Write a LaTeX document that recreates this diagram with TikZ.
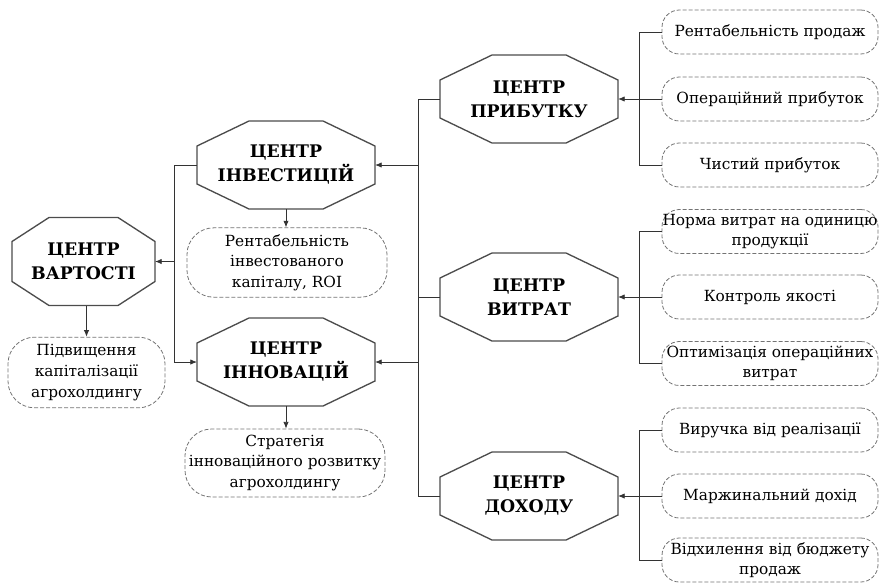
\documentclass[tikz,border=0pt]{standalone}
\usepackage{fontspec}
\setmainfont{DejaVu Serif}
\usepackage{tikz}
\usetikzlibrary{arrows.meta}

\newcommand{\octbox}[3]{%
  \draw[octline] ([xshift=#2]#1.north west) -- ([xshift=-#2]#1.north east)
    -- ([yshift=-#3]#1.north east) -- ([yshift=#3]#1.south east)
    -- ([xshift=-#2]#1.south east) -- ([xshift=#2]#1.south west)
    -- ([yshift=#3]#1.south west) -- ([yshift=-#3]#1.north west) -- cycle;}

\tikzset{
  centre/.style={minimum width=133.5pt, minimum height=66pt, inner sep=0pt, outer sep=0pt,
    align=center, font=\fontsize{13pt}{18pt}\selectfont\bfseries},
  goal/.style={draw=black!55, dash pattern=on 3pt off 1.5pt, line width=0.6pt, rounded corners=13pt,
    minimum width=162pt, minimum height=33pt, inner sep=0pt, align=center,
    font=\fontsize{11.5pt}{15.5pt}\selectfont},
  octline/.style={draw=black!70, line width=1pt},
  link/.style={draw=black!80, line width=0.6pt},
  >={Latex[length=5pt,width=4pt]}
}

\begin{document}
\begin{tikzpicture}[x=0.75pt,y=-0.75pt]
\useasboundingbox (0,0) rectangle (880,582);

\node[centre, minimum width=107.25pt] (vart) at (83.5,261.5) {ЦЕНТР\\ВАРТОСТІ};
\node[centre] (invest) at (286,165) {ЦЕНТР\\ІНВЕСТИЦІЙ};
\node[centre] (innov) at (286,362) {ЦЕНТР\\ІННОВАЦІЙ};
\node[centre] (prybutok) at (529,99) {ЦЕНТР\\ПРИБУТКУ};
\node[centre] (vytraty) at (529,297) {ЦЕНТР\\ВИТРАТ};
\node[centre] (dokhid) at (529,496) {ЦЕНТР\\ДОХОДУ};
\octbox{vart}{27.75pt}{18pt}
\foreach \n in {invest,innov,prybutok,vytraty,dokhid}
  \octbox{\n}{39pt}{18.75pt};

\node[goal, minimum width=117.75pt, minimum height=53pt, rounded corners=20pt] (kapital) at (86.5,372.5) {Підвищення\\капіталізації\\агрохолдингу};
\node[goal, minimum width=150pt, minimum height=52pt, rounded corners=20pt] (roi) at (287,262.5) {Рентабельність\\інвестованого\\капіталу, ROI};
\node[goal, minimum width=150pt, minimum height=51pt, rounded corners=20pt] (strateg) at (285,463) {Стратегія\\інноваційного розвитку\\агрохолдингу};

\node[goal] (rentprod) at (770,32) {Рентабельність продаж};
\node[goal] (opprib) at (770,99) {Операційний прибуток};
\node[goal] (chprib) at (770,165) {Чистий прибуток};
\node[goal] (norma) at (770,231.5) {Норма витрат на одиницю\\продукції};
\node[goal] (yakist) at (770,297) {Контроль якості};
\node[goal] (optym) at (770,363.5) {Оптимізація операційних\\витрат};
\node[goal] (vyruchka) at (770,430) {Виручка від реалізації};
\node[goal] (marzh) at (770,496) {Маржинальний дохід};
\node[goal] (vidkh) at (770,560) {Відхилення від бюджету\\продаж};

\coordinate (lbus) at (174,0);
\coordinate (rbus) at (418,0);
\coordinate (fbus) at (639,0);

\draw[link,->] (invest.west) -| (lbus |- innov.west) -- (innov.west);
\draw[link,->] (vart.east -| lbus) -- (vart.east);
\draw[link] (prybutok.west) -| (rbus |- dokhid.west) -- (dokhid.west);
\draw[link] (vytraty.west) -- (vytraty.west -| rbus);
\draw[link,->] (invest.east -| rbus) -- (invest.east);
\draw[link,->] (innov.east -| rbus) -- (innov.east);

\draw[link] (rentprod.west) -| (fbus |- chprib.west) -- (chprib.west);
\draw[link,->] (opprib.west) -- (prybutok.east);
\draw[link] (norma.west) -| (fbus |- optym.west) -- (optym.west);
\draw[link,->] (yakist.west) -- (vytraty.east);
\draw[link] (vyruchka.west) -| (fbus |- vidkh.west) -- (vidkh.west);
\draw[link,->] (marzh.west) -- (dokhid.east);

\draw[link,->] (kapital.north |- vart.south) -- (kapital.north);
\draw[link,->] (invest.south) -- (roi.north -| invest.south);
\draw[link,->] (innov.south) -- (strateg.north -| innov.south);
\end{tikzpicture}
\end{document}
